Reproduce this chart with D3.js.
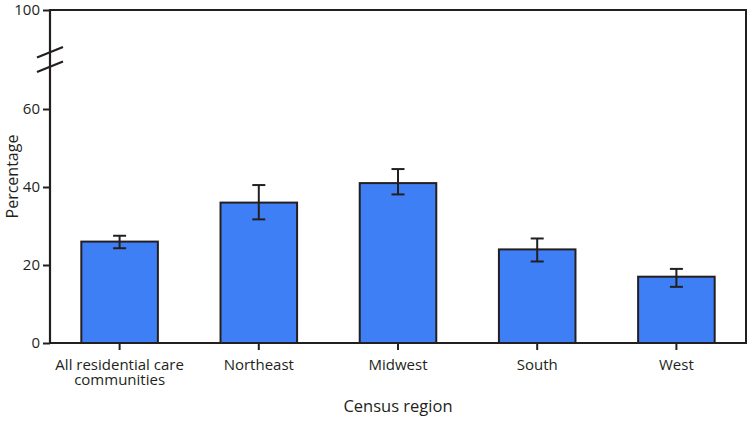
<!DOCTYPE html>
<html>
<head>
<meta charset="utf-8">
<script src="https://cdn.jsdelivr.net/npm/d3@7"></script>
<style>
  html, body { margin: 0; padding: 0; background: #fff; }
  svg { display: block; }
  text { font-family: "Open Sans", "Noto Sans", sans-serif; fill: #231f20; }
</style>
</head>
<body>
<svg id="chart" width="748" height="434"></svg>
<script>
const categories = ["All residential care communities", "Northeast", "Midwest", "South", "West"];
const values = [26, 36, 41, 24, 17];
const lowerCI = [24.3, 31.7, 38.1, 20.9, 14.4];
const upperCI = [27.5, 40.5, 44.6, 26.8, 19.0];
const yTicks = [0, 20, 40, 60, 100];

const svg = d3.select("#chart");
const mLeft = 50, mRight = 746, mTop = 10, mBottom = 343;
const ink = "#231f20";

const x = d3.scaleBand().domain(categories).range([mLeft, mRight]).paddingInner(0.45).paddingOuter(0.225);
// broken axis: 0-60 linear, 60-100 compressed above the break
const y = d3.scaleLinear().domain([0, 60, 100]).range([mBottom, 109, mTop]);

// frame top and right
svg.append("line").attr("x1", mLeft).attr("x2", mRight).attr("y1", mTop).attr("y2", mTop)
  .attr("stroke", ink).attr("stroke-width", 2);
svg.append("line").attr("x1", mRight).attr("x2", mRight).attr("y1", mTop - 1).attr("y2", mBottom)
  .attr("stroke", ink).attr("stroke-width", 2);

// bars
const data = categories.map((c, i) => ({c, v: values[i], lo: lowerCI[i], hi: upperCI[i]}));
svg.selectAll("rect.bar").data(data).enter().append("rect")
  .attr("class", "bar")
  .attr("x", d => x(d.c))
  .attr("width", x.bandwidth())
  .attr("y", d => y(d.v))
  .attr("height", d => mBottom - y(d.v))
  .attr("fill", "#3f7ff5")
  .attr("stroke", ink).attr("stroke-width", 2);

// error bars
const cap = 13;
const eb = svg.selectAll("g.err").data(data).enter().append("g").attr("class", "err")
  .attr("stroke", ink).attr("stroke-width", 2);
eb.append("line").attr("x1", d => x(d.c) + x.bandwidth()/2).attr("x2", d => x(d.c) + x.bandwidth()/2)
  .attr("y1", d => y(d.lo)).attr("y2", d => y(d.hi));
eb.append("line").attr("x1", d => x(d.c) + x.bandwidth()/2 - cap/2).attr("x2", d => x(d.c) + x.bandwidth()/2 + cap/2)
  .attr("y1", d => y(d.lo)).attr("y2", d => y(d.lo));
eb.append("line").attr("x1", d => x(d.c) + x.bandwidth()/2 - cap/2).attr("x2", d => x(d.c) + x.bandwidth()/2 + cap/2)
  .attr("y1", d => y(d.hi)).attr("y2", d => y(d.hi));

// y axis
const yAxis = svg.append("g").attr("transform", `translate(${mLeft},0)`)
  .call(d3.axisLeft(y).tickValues(yTicks).tickSize(7).tickPadding(3).tickFormat(d3.format("d")));
yAxis.select(".domain").attr("stroke", ink).attr("stroke-width", 2.2).attr("d", `M0,${mTop - 1}V${mBottom + 1}`);
yAxis.selectAll(".tick line").attr("stroke", ink).attr("stroke-width", 2);
yAxis.selectAll(".tick text").attr("font-size", 15).style("font-family", '"Open Sans", sans-serif').attr("fill", ink);

// break marks
const brk = svg.append("g").attr("stroke", ink).attr("stroke-width", 2.2);
brk.append("line").attr("x1", mLeft - 13).attr("y1", 57.5).attr("x2", mLeft + 13).attr("y2", 47);
brk.append("line").attr("x1", mLeft - 13).attr("y1", 72).attr("x2", mLeft + 13).attr("y2", 61.5);

// x axis
const xAxis = svg.append("g").attr("transform", `translate(0,${mBottom})`)
  .call(d3.axisBottom(x).tickSize(7).tickSizeOuter(0).tickPadding(6));
xAxis.select(".domain").attr("stroke", ink).attr("stroke-width", 2.2).attr("d", `M${mLeft - 1},0H${mRight + 1}`);
xAxis.selectAll(".tick line").attr("stroke", ink).attr("stroke-width", 2);
xAxis.selectAll(".tick text").remove();
xAxis.selectAll(".tick").each(function(d) {
  const lines = d === "All residential care communities" ? ["All residential care", "communities"] : [d];
  lines.forEach((l, i) => d3.select(this).append("text")
    .attr("text-anchor", "middle").attr("font-size", 15).attr("fill", ink)
    .style("font-family", '"Open Sans", sans-serif')
    .attr("x", 0).attr("y", 27 + i * 14.5).text(l));
});

// axis titles
svg.append("text").attr("x", (mLeft + mRight) / 2).attr("y", 412).attr("text-anchor", "middle")
  .attr("font-size", 16.5).text("Census region");
svg.append("text").attr("transform", `translate(17.5,${(mTop + mBottom) / 2}) rotate(-90)`)
  .attr("text-anchor", "middle").attr("font-size", 16).text("Percentage");
</script>
</body>
</html>
